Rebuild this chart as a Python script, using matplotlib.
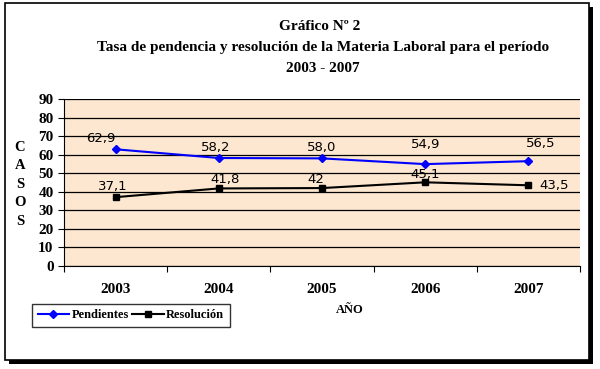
import matplotlib
matplotlib.use("Agg")
import matplotlib.pyplot as plt
from matplotlib.patches import Rectangle

years = ["2003", "2004", "2005", "2006", "2007"]
pendientes = [62.9, 58.2, 58.0, 54.9, 56.5]
resolucion = [37.1, 41.8, 42.0, 45.1, 43.5]
pend_labels = ["62,9", "58,2", "58,0", "54,9", "56,5"]
res_labels = ["37,1", "41,8", "42", "45,1", "43,5"]

serif = ["Liberation Serif", "DejaVu Serif"]

fig = plt.figure(figsize=(6, 3.69), dpi=100)

# outer frame with shadow
fig.patches.append(Rectangle((9 / 600, 1 - 364 / 369), 584 / 600, 357 / 369,
                             transform=fig.transFigure, facecolor="black",
                             edgecolor="none", zorder=0))
fig.patches.append(Rectangle((5 / 600, 1 - 360 / 369), 584 / 600, 357 / 369,
                             transform=fig.transFigure, facecolor="white",
                             edgecolor="black", linewidth=1.2, zorder=1))

ax = fig.add_axes([64 / 600, 1 - 266 / 369, 516 / 600, 167 / 369])
ax.set_zorder(2)
ax.set_facecolor("#fde7d0")

x = range(len(years))
ax.plot(x, pendientes, color="#0000ff", marker="D", markersize=4, lw=1.5,
        label="Pendientes")
ax.plot(x, resolucion, color="black", marker="s", markersize=5, lw=1.5,
        label="Resolución")

# data labels, offsets in pixels (dx, dy, va)
pend_off = [(-15, 4, "bottom"), (-3, 4, "bottom"), (0, 4, "bottom"),
            (0, 13, "bottom"), (12, 11, "bottom")]
res_off = [(-3, 4, "bottom"), (6, 2, "bottom"), (-6, 2, "bottom"),
           (0, 1, "bottom"), (26, 0, "center")]
for i in x:
    dx, dy, va = pend_off[i]
    ax.text(i + dx / 103, pendientes[i] + dy * 90 / 167, pend_labels[i],
            ha="center", va=va, fontsize=9.5)
    dx, dy, va = res_off[i]
    ax.text(i + dx / 103, resolucion[i] + dy * 90 / 167, res_labels[i],
            ha="center", va=va, fontsize=9.5)

ax.set_xlim(-0.5, 4.5)
ax.set_ylim(0, 90)
ax.set_yticks(range(0, 91, 10))
ax.yaxis.grid(True, color="black", lw=0.9)
ax.set_axisbelow(True)
ax.set_xticks([i - 0.5 for i in range(6)])
ax.set_xticklabels([])
ax.set_xticks(list(x), minor=True)
ax.set_xticklabels(years, minor=True, fontfamily=serif, fontweight="bold",
                   fontsize=11)
ax.tick_params(axis="x", which="minor", length=0, pad=12)
ax.tick_params(axis="x", which="major", length=4, direction="out")
ax.tick_params(axis="y", length=4, labelsize=11)
for lab in ax.get_yticklabels():
    lab.set_fontfamily(serif)
    lab.set_fontweight("bold")
for s in ["top", "right"]:
    ax.spines[s].set_visible(False)
ax.spines["left"].set_color("black")
ax.spines["bottom"].set_color("black")

fig.text(350 / 600, 1 - 310 / 369, "AÑO", ha="center", va="center",
         fontfamily=serif, fontweight="bold", fontsize=9)
fig.text(20 / 600, 1 - 184 / 369, "C\nA\nS\nO\nS", ha="center", va="center",
         fontfamily=serif, fontweight="bold", fontsize=10.5, linespacing=1.55)

fig.text(320 / 600, 1 - 27 / 369, "Gráfico Nº 2", ha="center", va="center",
         fontfamily=serif, fontweight="bold", fontsize=11)
fig.text(323 / 600, 1 - 48 / 369,
         "Tasa de pendencia y resolución de la Materia Laboral para el período",
         ha="center", va="center", fontfamily=serif, fontweight="bold",
         fontsize=11)
fig.text(323 / 600, 1 - 69 / 369, "2003 - 2007", ha="center", va="center",
         fontfamily=serif, fontweight="bold", fontsize=11)

leg = fig.legend(loc="lower left", bbox_to_anchor=(32 / 600, 1 - 327 / 369),
                 ncol=2, frameon=True, fancybox=False, edgecolor="black",
                 prop={"family": serif, "weight": "bold", "size": 9},
                 handlelength=2.5, columnspacing=0.3, handletextpad=0.2,
                 borderpad=0.45, borderaxespad=0)
leg.get_frame().set_linewidth(1.0)

fig.savefig("out.png", dpi=100)
